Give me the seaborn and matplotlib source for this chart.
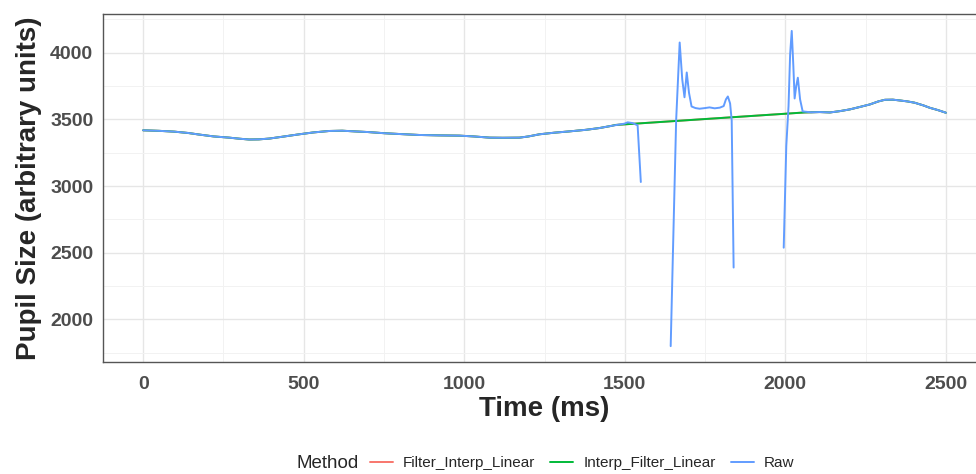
import pandas as pd
import numpy as np
import seaborn as sns
import matplotlib.pyplot as plt
from matplotlib.ticker import MultipleLocator

# raw pupil trace, split at the blink gaps
raw_t1 = [0, 50, 97, 140, 175, 220, 268, 300, 330, 360, 393, 440, 486, 530, 580, 620,
          658, 700, 752, 800, 860, 920, 985, 1030, 1079, 1120, 1172, 1200, 1234, 1280,
          1328, 1380, 1421, 1460, 1499, 1509, 1525, 1540, 1550]
raw_v1 = [3418, 3414, 3408, 3398, 3386, 3372, 3363, 3355, 3349, 3350, 3356, 3372, 3388,
          3402, 3413, 3415, 3410, 3405, 3396, 3390, 3383, 3380, 3378, 3372, 3363, 3362,
          3363, 3372, 3388, 3400, 3410, 3422, 3435, 3452, 3468, 3478, 3472, 3455, 3030]
raw_t2 = [1643, 1650, 1660, 1671, 1679, 1686, 1693, 1700, 1708, 1720, 1733, 1750, 1764,
          1780, 1796, 1808, 1815, 1821, 1828, 1833, 1839]
raw_v2 = [1798, 2500, 3493, 4077, 3800, 3666, 3852, 3700, 3597, 3585, 3580, 3585, 3590,
          3583, 3588, 3600, 3650, 3672, 3620, 3493, 2388]
raw_t3 = [1995, 2003, 2010, 2015, 2020, 2025, 2029, 2034, 2039, 2046, 2054, 2080, 2107,
          2139, 2170, 2201, 2230, 2263, 2290, 2310, 2335, 2357, 2380, 2403, 2430, 2450,
          2475, 2500]
raw_v3 = [2537, 3300, 3600, 3990, 4164, 3900, 3657, 3750, 3813, 3650, 3560, 3553, 3555,
          3552, 3562, 3575, 3592, 3612, 3635, 3647, 3648, 3642, 3635, 3625, 3605, 3587,
          3570, 3550]

# linear interpolation across the blink
interp_t = [1470, 2060]
interp_v = [3458, 3552]

methods = ["Filter_Interp_Linear", "Interp_Filter_Linear", "Raw"]
colors = ["#F8766D", "#00BA38", "#619CFF"]

rows = []
for seg, (t, v) in enumerate([(raw_t1, raw_v1), (raw_t2, raw_v2), (raw_t3, raw_v3)]):
    for a, b in zip(t, v):
        rows.append(("Raw", f"raw{seg}", a, b))

for m in methods[:2]:
    pts = [(a, b) for a, b in zip(raw_t1, raw_v1) if a < interp_t[0]]
    pts += list(zip(interp_t, interp_v))
    pts += [(a, b) for a, b in zip(raw_t3, raw_v3) if a > interp_t[1]]
    for a, b in pts:
        rows.append((m, m, a, b))

df = pd.DataFrame(rows, columns=["Method", "seg", "Time", "Pupil"])

sns.set_style("white")
plt.rcParams['font.family'] = ['Liberation Sans', 'DejaVu Sans']

fig = plt.figure(figsize=(9.76, 4.74), dpi=100)
ax = fig.add_axes([103 / 976, 112 / 474, 883 / 976, 348 / 474])

sns.lineplot(data=df, x="Time", y="Pupil", hue="Method", units="seg", estimator=None,
             hue_order=methods, palette=dict(zip(methods, colors)), linewidth=1.4,
             sort=False, ax=ax)

ax.set_xlim(-125, 2625)
ax.set_ylim(1679, 4291)
ax.set_xticks([0, 500, 1000, 1500, 2000, 2500])
ax.set_yticks([2000, 2500, 3000, 3500, 4000])
ax.xaxis.set_minor_locator(MultipleLocator(250))
ax.yaxis.set_minor_locator(MultipleLocator(250))
ax.grid(which="major", color="#E6E6E6", linewidth=1.0)
ax.grid(which="minor", color="#F2F2F2", linewidth=0.7)
ax.set_axisbelow(True)
ax.tick_params(which="major", length=4, width=0.9, color="#333333", labelsize=14,
               labelcolor="#4D4D4D")
ax.tick_params(axis="x", which="major", pad=6)
ax.tick_params(axis="y", which="major", pad=3)
ax.tick_params(which="minor", length=0)
for lab in ax.get_xticklabels() + ax.get_yticklabels():
    lab.set_fontweight("bold")
for s in ax.spines.values():
    s.set_color("#555555")
    s.set_linewidth(1.0)

ax.set_xlabel("Time (ms)", fontsize=20, fontweight="bold", labelpad=2)
ax.set_ylabel("Pupil Size (arbitrary units)", fontsize=20, fontweight="bold", labelpad=6)

handles, labels = ax.get_legend_handles_labels()
ax.get_legend().remove()
fig.legend(handles, labels, loc="center", bbox_to_anchor=(582 / 976, 11 / 474), ncol=3,
           frameon=False, fontsize=11, handlelength=1.5, handletextpad=0.65,
           columnspacing=1.0)
fig.text(296 / 976, 11 / 474, "Method", fontsize=13.5, va="center", ha="left")

fig.savefig("out.png", dpi=100)
